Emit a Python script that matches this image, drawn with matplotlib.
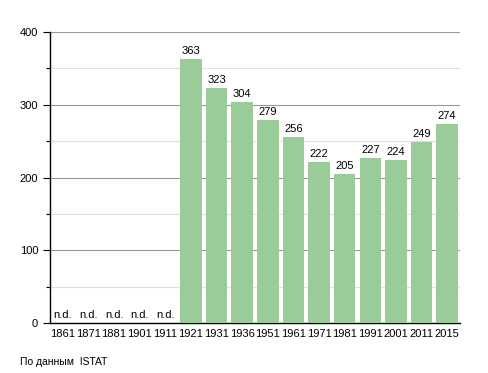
import matplotlib
matplotlib.use("Agg")
import matplotlib.pyplot as plt
from matplotlib.ticker import MultipleLocator

plt.rcParams['font.family'] = ['Liberation Sans', 'DejaVu Sans']

years = ['1861', '1871', '1881', '1901', '1911', '1921', '1931', '1936',
         '1951', '1961', '1971', '1981', '1991', '2001', '2011', '2015']
population = [None, None, None, None, None, 363, 323, 304,
              279, 256, 222, 205, 227, 224, 249, 274]

fig = plt.figure(figsize=(4.88, 3.73), dpi=100)
ax = fig.add_axes([0.1025, 0.134, 0.84, 0.78])

x = list(range(len(years)))
vals = [v if v is not None else 0 for v in population]
ax.bar(x, vals, width=0.84, color='#99cc99', zorder=3)

for xi, v in zip(x, population):
    if v is None:
        ax.text(xi, 4, 'n.d.', ha='center', va='bottom', fontsize=8, zorder=4)
    else:
        ax.text(xi, v + 4, str(v), ha='center', va='bottom', fontsize=8, zorder=4)

ax.set_xlim(-0.5, len(years) - 0.5)
ax.set_ylim(0, 400)
ax.set_xticks(x)
ax.set_xticklabels(years, fontsize=8)
ax.yaxis.set_major_locator(MultipleLocator(100))
ax.yaxis.set_minor_locator(MultipleLocator(50))
ax.tick_params(axis='y', labelsize=8, length=5, width=0.8)
ax.tick_params(axis='y', which='minor', length=3, width=0.8)
ax.tick_params(axis='x', length=0, pad=4)

ax.grid(axis='y', which='major', color='#999999', linewidth=0.8, zorder=0)
ax.grid(axis='y', which='minor', color='#e0e0e0', linewidth=0.8, zorder=0)

for side in ['top', 'right']:
    ax.spines[side].set_visible(False)
ax.spines['left'].set_linewidth(1)
ax.spines['bottom'].set_linewidth(1)

fig.text(20 / 488, 1 - 362 / 373, 'По данным  ISTAT', fontsize=7.5, va='center', ha='left')

fig.savefig('out.png', dpi=100)
